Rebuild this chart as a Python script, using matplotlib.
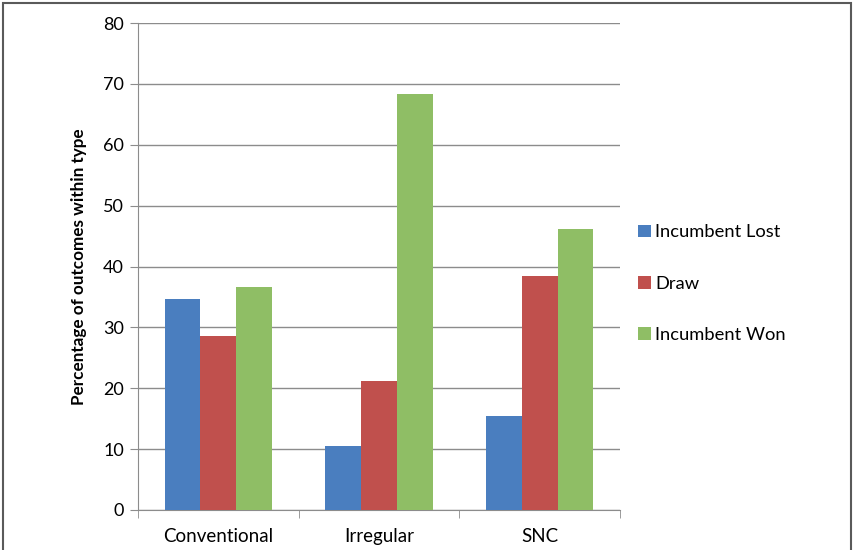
import numpy as np
import matplotlib
matplotlib.use("Agg")
import matplotlib.pyplot as plt
from matplotlib.patches import Rectangle

plt.rcParams['font.family'] = ['Lato', 'DejaVu Sans']

categories = ["Conventional", "Irregular", "SNC"]
series = ["Incumbent Lost", "Draw", "Incumbent Won"]
lost = [34.6, 10.5, 15.4]
draw = [28.6, 21.2, 38.4]
won = [36.6, 68.3, 46.1]
colors = ["#4A7EBF", "#C0504D", "#8FBE65"]

fig = plt.figure(figsize=(8.54, 5.5), dpi=100)
ax = fig.add_axes([138/854, 1-510/550, (620-138)/854, (510-23)/550])

x = np.arange(len(categories))
w = 0.222
for i, (vals, lab, col) in enumerate(zip([lost, draw, won], series, colors)):
    ax.bar(x + (i-1)*w, vals, w, color=col, label=lab, zorder=3)

ax.set_xlim(-0.5, 2.5)
ax.set_ylim(0, 80)
ax.set_yticks(range(0, 81, 10))
ax.yaxis.grid(True, color="#8c8c8c", lw=1, zorder=0)
ax.set_xticks(x)
ax.set_xticklabels(categories, fontsize=13.5)
ax.set_xticks([-0.5, 0.5, 1.5, 2.5], minor=True)
ax.tick_params(axis='x', which='major', length=0, pad=13)
ax.tick_params(axis='x', which='minor', length=6, color="#8c8c8c")
ax.tick_params(axis='y', length=6, color="#8c8c8c", labelsize=13, pad=4)
for s in ["top", "right"]:
    ax.spines[s].set_visible(False)
for s in ["left", "bottom"]:
    ax.spines[s].set_color("#8c8c8c")
ax.set_ylabel("Percentage of outcomes within type", fontsize=12.3, fontweight="bold", labelpad=12)

ax.legend(loc="center left", bbox_to_anchor=(1.003, 0.465), frameon=False, fontsize=13.2,
          handlelength=0.7, handleheight=0.7, handletextpad=0.25, labelspacing=1.92)

fig.patches.append(Rectangle((3/854, -0.01), 848/854, 1-3/550+0.01, transform=fig.transFigure,
                             fill=False, edgecolor="#5a5a5a", lw=1.5))

fig.savefig("out.png", dpi=100)
